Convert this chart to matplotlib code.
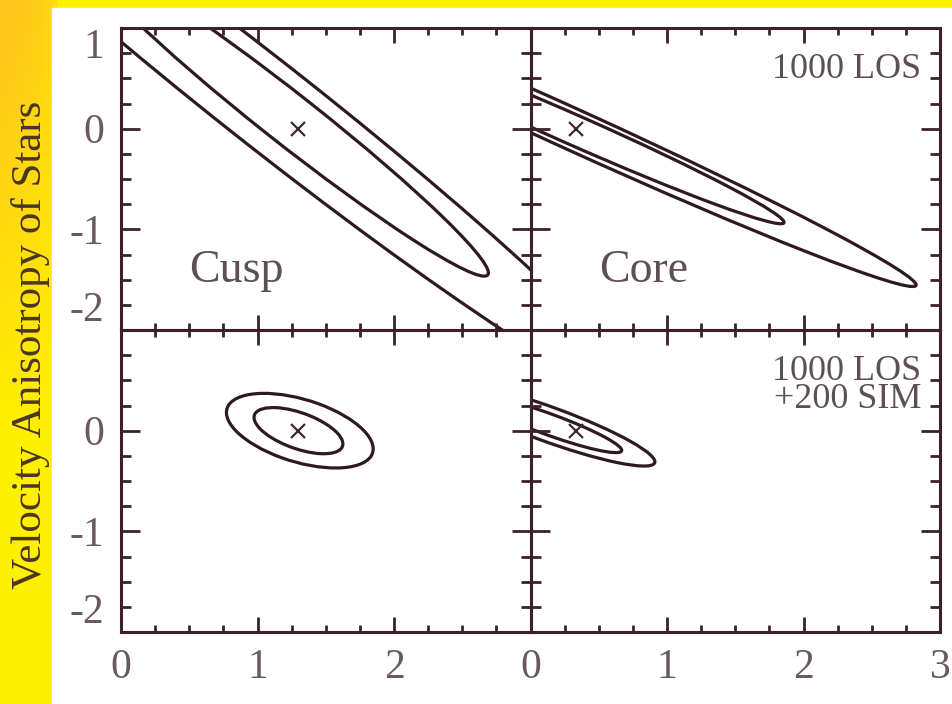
import numpy as np
import matplotlib
matplotlib.use("Agg")
import matplotlib.pyplot as plt
from matplotlib.patches import Ellipse, Rectangle
from matplotlib.ticker import MultipleLocator

plt.rcParams['font.family'] = ['Liberation Serif', 'DejaVu Serif']
plt.rcParams['axes.unicode_minus'] = False

# confidence contours: centre x, centre y, semi-major, semi-minor, angle (deg, data space)
cusp_los = [(1.23, 0.10, 2.13, 0.22, -47.0),
            (1.08, 0.23, 4.00, 0.375, -47.0)]
core_los = [(0.33, -0.02, 1.78, 0.14, -31.0),
            (0.33, -0.02, 2.93, 0.19, -31.7)]
cusp_sim = [(1.30, 0.00, 0.36, 0.17, -29.0),
            (1.31, 0.00, 0.58, 0.30, -26.0)]
core_sim = [(0.13, 0.065, 0.60, 0.10, -26.6),
            (0.13, 0.065, 0.87, 0.165, -26.6)]

# true model values (x marks)
true_x = [1.30, 0.33]
true_y = [0.0, 0.0]

xticks = [0, 1, 2, 3]
yticks = [-2, -1, 0, 1]
ylabel = "Velocity Anisotropy of Stars"

line_col = "#2e1a1e"
axis_col = "#3c2228"
tick_col = "#6a5862"
text_col = "#5e4e58"

fig = plt.figure(figsize=(9.52, 7.04), dpi=100)

# yellow backdrop with orange fade down the left strip
bg = fig.add_axes([0, 0, 1, 1], zorder=-10)
H, W = 704, 952
yy = np.linspace(0, 1, H)[:, None]
xx = np.linspace(0, 1, W)[None, :]
yellow = np.array([1.0, 0.94, 0.0])
orange = np.array([1.0, 0.76, 0.12])
w = np.clip(1 - yy / 0.62, 0, 1) * np.clip(1 - xx / 0.06, 0, 1) ** 0.3
img = yellow[None, None, :] * (1 - w[..., None]) + orange[None, None, :] * w[..., None]
bg.imshow(img, extent=[0, W, H, 0], aspect='auto')
bg.add_patch(Rectangle((52, 8), W - 52, H - 8, color='white'))
bg.set_xlim(0, W)
bg.set_ylim(H, 0)
bg.axis('off')

x0, pw = 121 / W, 409.5 / W
ph = 302 / H
y_top = (H - 330) / H
y_bot = (H - 632) / H

panels = [
    (x0, y_top, cusp_los, 0, "Cusp", None),
    (x0 + pw, y_top, core_los, 1, "Core", "1000 LOS"),
    (x0, y_bot, cusp_sim, 0, None, None),
    (x0 + pw, y_bot, core_sim, 1, None, "1000 LOS\n+200 SIM"),
]

for i, (px, py, ells, k, name, note) in enumerate(panels):
    ax = fig.add_axes([px, py, pw, ph])
    ax.set_facecolor('none')
    ax.set_xlim(0, 3)
    ax.set_ylim(-2, 1)
    for cx, cy, a, b, ang in ells:
        ax.add_patch(Ellipse((cx, cy), 2 * a, 2 * b, angle=ang, fill=False,
                             ec=line_col, lw=2.3))
    ax.plot(true_x[k], true_y[k], marker='x', ms=10, mew=1.6, color="#3c2a30")

    if name:
        ax.text(0.5, -1.52, name, fontsize=33, color=text_col,
                ha='left', va='baseline')
    if note:
        ax.text(2.86, 0.50 if i == 1 else 0.23, note, fontsize=26,
                color=text_col, ha='right', va='baseline',
                multialignment='right', linespacing=0.78)

    for sp in ax.spines.values():
        sp.set_color(axis_col)
        sp.set_linewidth(2.2)
    ax.xaxis.set_minor_locator(MultipleLocator(0.25))
    ax.yaxis.set_minor_locator(MultipleLocator(0.25))
    ax.tick_params(which='both', direction='in', top=True, right=True,
                   color=axis_col, labelcolor=tick_col, labelsize=30)
    ax.tick_params(axis='x', which='major', length=11, width=2, pad=12)
    ax.tick_params(axis='x', which='minor', length=5, width=2)
    ax.tick_params(axis='y', which='major', length=14, width=2, pad=12)
    ax.tick_params(axis='y', which='minor', length=7, width=2)

    left_col = (k == 0)
    bottom_row = (i >= 2)
    if left_col:
        if bottom_row:
            ax.set_yticks(yticks, labels=["-2", "-1", "0", ""])
        else:
            ax.set_yticks(yticks, labels=["-2", "-1", "0", "1"])
        labs = ax.get_yticklabels()
        labs[0].set_va('bottom')
        labs[-1].set_va('top')
    else:
        ax.set_yticks(yticks, labels=[])
    if bottom_row:
        if left_col:
            ax.set_xticks(xticks, labels=["0", "1", "2", ""])
        else:
            ax.set_xticks(xticks, labels=["0", "1", "2", "3"])
    else:
        ax.set_xticks(xticks, labels=[])

fig.text(31 / W, 1 - 345 / H, ylabel, rotation=90, fontsize=31,
         color="#4a3526", ha='center', va='center')

fig.savefig("out.png", dpi=100)
